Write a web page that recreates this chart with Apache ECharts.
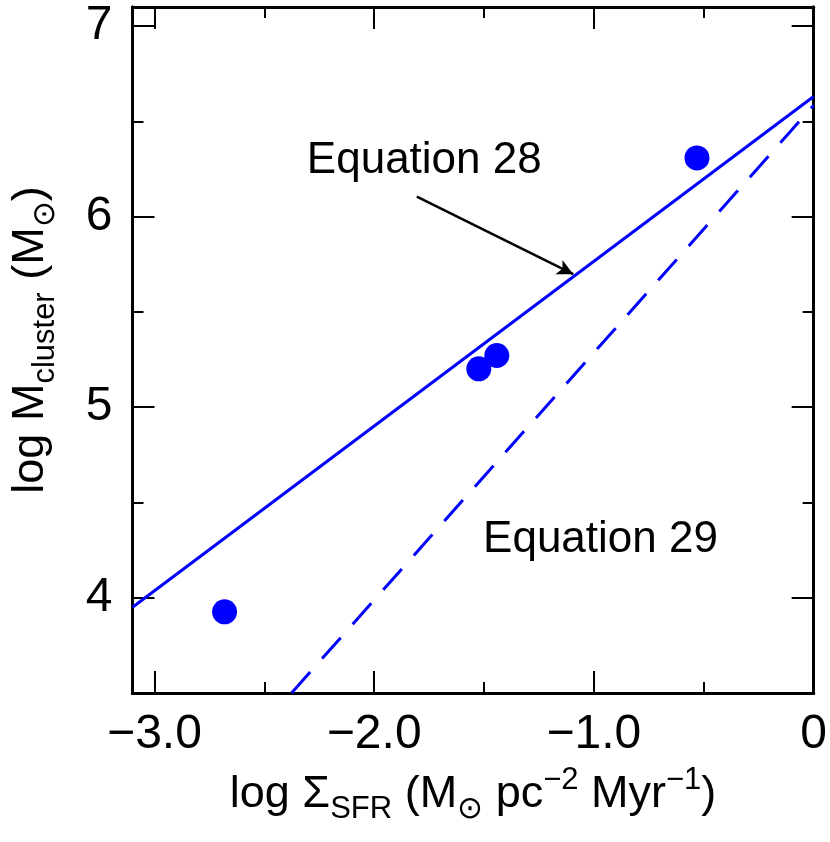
<!DOCTYPE html>
<html>
<head>
<meta charset="utf-8">
<script src="https://cdn.jsdelivr.net/npm/echarts@6/dist/echarts.min.js"></script>
<style>
  html, body { margin: 0; padding: 0; background: #fff; }
  #chart { width: 830px; height: 842px; }
</style>
</head>
<body>
<div id="chart"></div>
<script>
// observed clusters
const sfr = [-2.681, -1.524, -1.442, -0.531]
const mass = [3.926, 5.201, 5.271, 6.308]

// model lines (end points)
const eq28X = [-3.1, 0]
const eq28Y = [3.95, 6.63]
const eq29X = [-2.376, 0]
const eq29Y = [3.5, 6.584]

// ticks
const xMajor = [-3, -2, -1, 0]
const xMinor = [-2.5, -1.5, -0.5]
const yMajor = [4, 5, 6, 7]
const yMinor = [4.5, 5.5, 6.5]

// annotations
const noteText = ['Equation 28', 'Equation 29']
const noteX = [-1.772, -0.97]
const noteY = [6.291, 4.306]
const arrowFrom = [-1.806, 6.105]
const arrowTo = [-1.094, 5.698]

const FONT = '"Liberation Sans", Arial, Helvetica, sans-serif'
const BLUE = '#0000ff'

const titleRich = {
  n: { fontSize: 45, lineHeight: 60, fontFamily: FONT, color: '#000' },
  sub: { fontSize: 31, lineHeight: 31, verticalAlign: 'bottom', fontFamily: FONT, color: '#000' },
  sup: { fontSize: 31, lineHeight: 40, verticalAlign: 'top', fontFamily: FONT, color: '#000' }
}

const fmtX = v => (v === 0 ? '0' : '\u2212' + Math.abs(v).toFixed(1))

const makeAxis = (dim, pos, ticks, len, labels) => {
  const isX = dim === 'x'
  const ax = {
    type: 'value',
    position: pos,
    offset: 0,
    min: isX ? -3.1 : 3.5,
    max: isX ? 0 : 7.1,
    axisLine: { show: true, onZero: false, lineStyle: { color: '#000', width: 3 } },
    axisTick: { show: true, inside: true, length: len, customValues: ticks, lineStyle: { color: '#000', width: 2 } },
    axisLabel: { show: false },
    splitLine: { show: false }
  }
  if (labels) {
    ax.axisLabel = {
      show: true,
      customValues: ticks,
      formatter: isX ? fmtX : v => String(v),
      fontSize: 48,
      fontFamily: FONT,
      color: '#000',
      margin: isX ? 18 : 20
    }
  }
  return ax
}

const chart = echarts.init(document.getElementById('chart'))

const xAxes = [
  makeAxis('x', 'bottom', xMajor, 22, true),
  makeAxis('x', 'bottom', xMinor, 11, false),
  makeAxis('x', 'top', xMajor, 22, false),
  makeAxis('x', 'top', xMinor, 11, false)
]
xAxes[0].name = '{n|log \u03A3}{sub|SFR}{n| (M}{sub|\u2299}{n| pc}{sup|\u22122}{n| Myr}{sup|\u22121}{n|)}'
xAxes[0].nameLocation = 'middle'
xAxes[0].nameGap = 72
xAxes[0].nameTextStyle = { rich: titleRich }

const yAxes = [
  makeAxis('y', 'left', yMajor, 22, true),
  makeAxis('y', 'left', yMinor, 11, false),
  makeAxis('y', 'right', yMajor, 22, false),
  makeAxis('y', 'right', yMinor, 11, false)
]
yAxes[0].name = '{n|log M}{sub|cluster}{n| (M}{sub|\u2299}{n|)}'
yAxes[0].nameLocation = 'middle'
yAxes[0].nameRotate = 90
yAxes[0].nameGap = 72
yAxes[0].nameTextStyle = { rich: titleRich, padding: [0, 0, 0, 20] }

const option = {
  animation: false,
  backgroundColor: '#fff',
  grid: { left: 130, right: 15, top: 7, bottom: 149, containLabel: false },
  xAxis: xAxes,
  yAxis: yAxes,
  series: [
    {
      name: 'Equation 28',
      type: 'line',
      data: eq28X.map((x, i) => [x, eq28Y[i]]),
      showSymbol: false,
      clip: true,
      lineStyle: { color: BLUE, width: 3 },
      markLine: {
        silent: true,
        symbol: ['none', 'arrow'],
        symbolSize: [12, 16],
        label: { show: false },
        lineStyle: { color: '#000', width: 2.5, type: 'solid' },
        data: [[{ coord: arrowFrom }, { coord: arrowTo }]]
      }
    },
    {
      name: 'Equation 29',
      type: 'line',
      data: eq29X.map((x, i) => [x, eq29Y[i]]),
      showSymbol: false,
      clip: true,
      lineStyle: { color: BLUE, width: 3, type: [28, 18] }
    },
    {
      name: 'clusters',
      type: 'scatter',
      data: sfr.map((x, i) => [x, mass[i]]),
      symbol: 'circle',
      symbolSize: 25,
      itemStyle: { color: BLUE, opacity: 1 }
    },
    {
      name: 'notes',
      type: 'scatter',
      data: noteX.map((x, i) => [x, noteY[i]]),
      symbolSize: 0,
      itemStyle: { color: '#000', opacity: 1 },
      label: {
        show: true,
        position: 'inside',
        formatter: p => noteText[p.dataIndex],
        fontSize: 44,
        fontFamily: FONT,
        color: '#000',
        opacity: 1
      }
    }
  ]
}

chart.setOption(option)
</script>
</body>
</html>
